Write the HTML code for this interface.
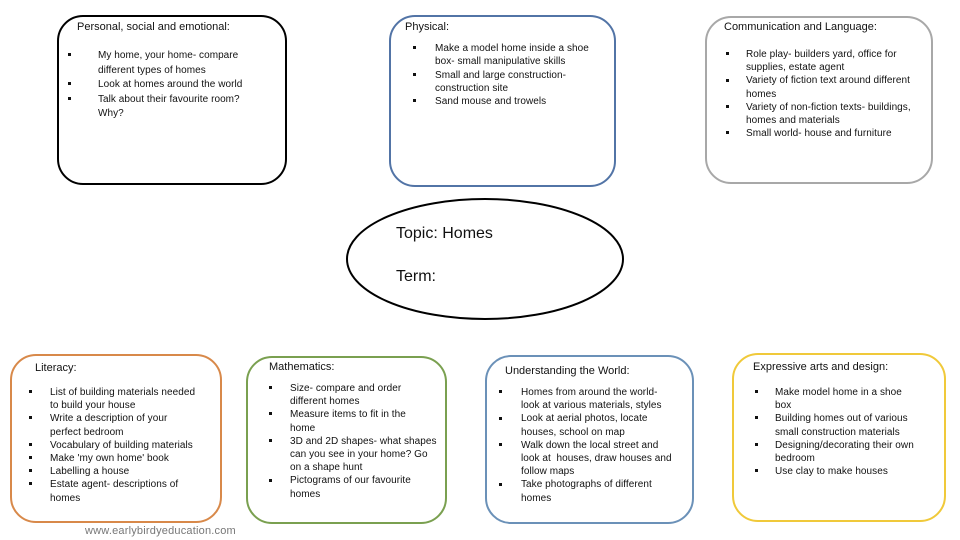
<!DOCTYPE html>
<html><head><meta charset="utf-8"><style>
body{margin:0;width:960px;height:540px;position:relative;background:#fff;overflow:hidden;font-family:"Liberation Sans",sans-serif;color:#111}
.b{position:absolute;border:2px solid #000;border-radius:26px;box-sizing:border-box}
.t{position:absolute;font-size:10px;white-space:nowrap;line-height:12px;letter-spacing:0.05px}
.h{font-size:11px;letter-spacing:0}
.d{position:absolute;width:3px;height:3px;background:#111}
</style></head><body>
<div class="b" style="left:57px;top:15px;width:230px;height:170px;border-color:#000"></div>
<div class="b" style="left:389px;top:15px;width:227px;height:172px;border-color:#5274a6"></div>
<div class="b" style="left:705px;top:16px;width:228px;height:168px;border-color:#a8a8a8"></div>
<div class="b" style="left:10px;top:354px;width:212px;height:169px;border-color:#d8894a"></div>
<div class="b" style="left:246px;top:356px;width:201px;height:168px;border-color:#7aa050"></div>
<div class="b" style="left:485px;top:355px;width:209px;height:169px;border-color:#6b91b8"></div>
<div class="b" style="left:732px;top:353px;width:214px;height:169px;border-color:#f0c93a"></div>
<svg style="position:absolute;left:0;top:0" width="960" height="540"><ellipse cx="485" cy="259" rx="138" ry="60" fill="none" stroke="#000" stroke-width="2"/></svg>
<div class="t" style="left:396px;top:225px;font-size:16px;line-height:18px;letter-spacing:0">Topic: Homes</div>
<div class="t" style="left:396px;top:268px;font-size:16px;line-height:18px;letter-spacing:0">Term:</div>

<div class="t h" style="left:77px;top:21px">Personal, social and emotional:</div>
<div class="d" style="left:68px;top:53px"></div><div class="d" style="left:68px;top:82px"></div><div class="d" style="left:68px;top:97px"></div>
<div class="t" style="left:98px;top:49px;line-height:14.5px">My home, your home- compare<br>different types of homes<br>Look at homes around the world<br>Talk about their favourite room?<br>Why?</div>

<div class="t h" style="left:405px;top:21px">Physical:</div>
<div class="d" style="left:413px;top:46px"></div><div class="d" style="left:413px;top:73px"></div><div class="d" style="left:413px;top:99px"></div>
<div class="t" style="left:435px;top:42px;line-height:13.3px">Make a model home inside a shoe<br>box- small manipulative skills<br>Small and large construction-<br>construction site<br>Sand mouse and trowels</div>

<div class="t h" style="left:724px;top:21px">Communication and Language:</div>
<div class="d" style="left:726px;top:52px"></div><div class="d" style="left:726px;top:79px"></div><div class="d" style="left:726px;top:105px"></div><div class="d" style="left:726px;top:131px"></div>
<div class="t" style="left:746px;top:48px;line-height:13.2px">Role play- builders yard, office for<br>supplies, estate agent<br>Variety of fiction text around different<br>homes<br>Variety of non-fiction texts- buildings,<br>homes and materials<br>Small world- house and furniture</div>

<div class="t h" style="left:35px;top:362px">Literacy:</div>
<div class="d" style="left:29px;top:390px"></div><div class="d" style="left:29px;top:416px"></div><div class="d" style="left:29px;top:443px"></div><div class="d" style="left:29px;top:456px"></div><div class="d" style="left:29px;top:469px"></div><div class="d" style="left:29px;top:482px"></div>
<div class="t" style="left:50px;top:386px;line-height:13.2px">List of building materials needed<br>to build your house<br>Write a description of your<br>perfect bedroom<br>Vocabulary of building materials<br>Make 'my own home' book<br>Labelling a house<br>Estate agent- descriptions of<br>homes</div>

<div class="t h" style="left:269px;top:361px">Mathematics:</div>
<div class="d" style="left:269px;top:386px"></div><div class="d" style="left:269px;top:412px"></div><div class="d" style="left:269px;top:439px"></div><div class="d" style="left:269px;top:479px"></div>
<div class="t" style="left:290px;top:382px;line-height:13.2px">Size- compare and order<br>different homes<br>Measure items to fit in the<br>home<br>3D and 2D shapes- what shapes<br>can you see in your home? Go<br>on a shape hunt<br>Pictograms of our favourite<br>homes</div>

<div class="t h" style="left:505px;top:365px">Understanding the World:</div>
<div class="d" style="left:499px;top:390px"></div><div class="d" style="left:499px;top:417px"></div><div class="d" style="left:499px;top:443px"></div><div class="d" style="left:499px;top:483px"></div>
<div class="t" style="left:521px;top:386px;line-height:13.2px">Homes from around the world-<br>look at various materials, styles<br>Look at aerial photos, locate<br>houses, school on map<br>Walk down the local street and<br>look at &nbsp;houses, draw houses and<br>follow maps<br>Take photographs of different<br>homes</div>

<div class="t h" style="left:753px;top:361px">Expressive arts and design:</div>
<div class="d" style="left:755px;top:390px"></div><div class="d" style="left:755px;top:416px"></div><div class="d" style="left:755px;top:443px"></div><div class="d" style="left:755px;top:469px"></div>
<div class="t" style="left:775px;top:386px;line-height:13.2px">Make model home in a shoe<br>box<br>Building homes out of various<br>small construction materials<br>Designing/decorating their own<br>bedroom<br>Use clay to make houses</div>

<div class="t" style="left:85px;top:525px;font-size:11px;letter-spacing:0.2px;color:#777">www.earlybirdyeducation.com</div>
</body></html>
